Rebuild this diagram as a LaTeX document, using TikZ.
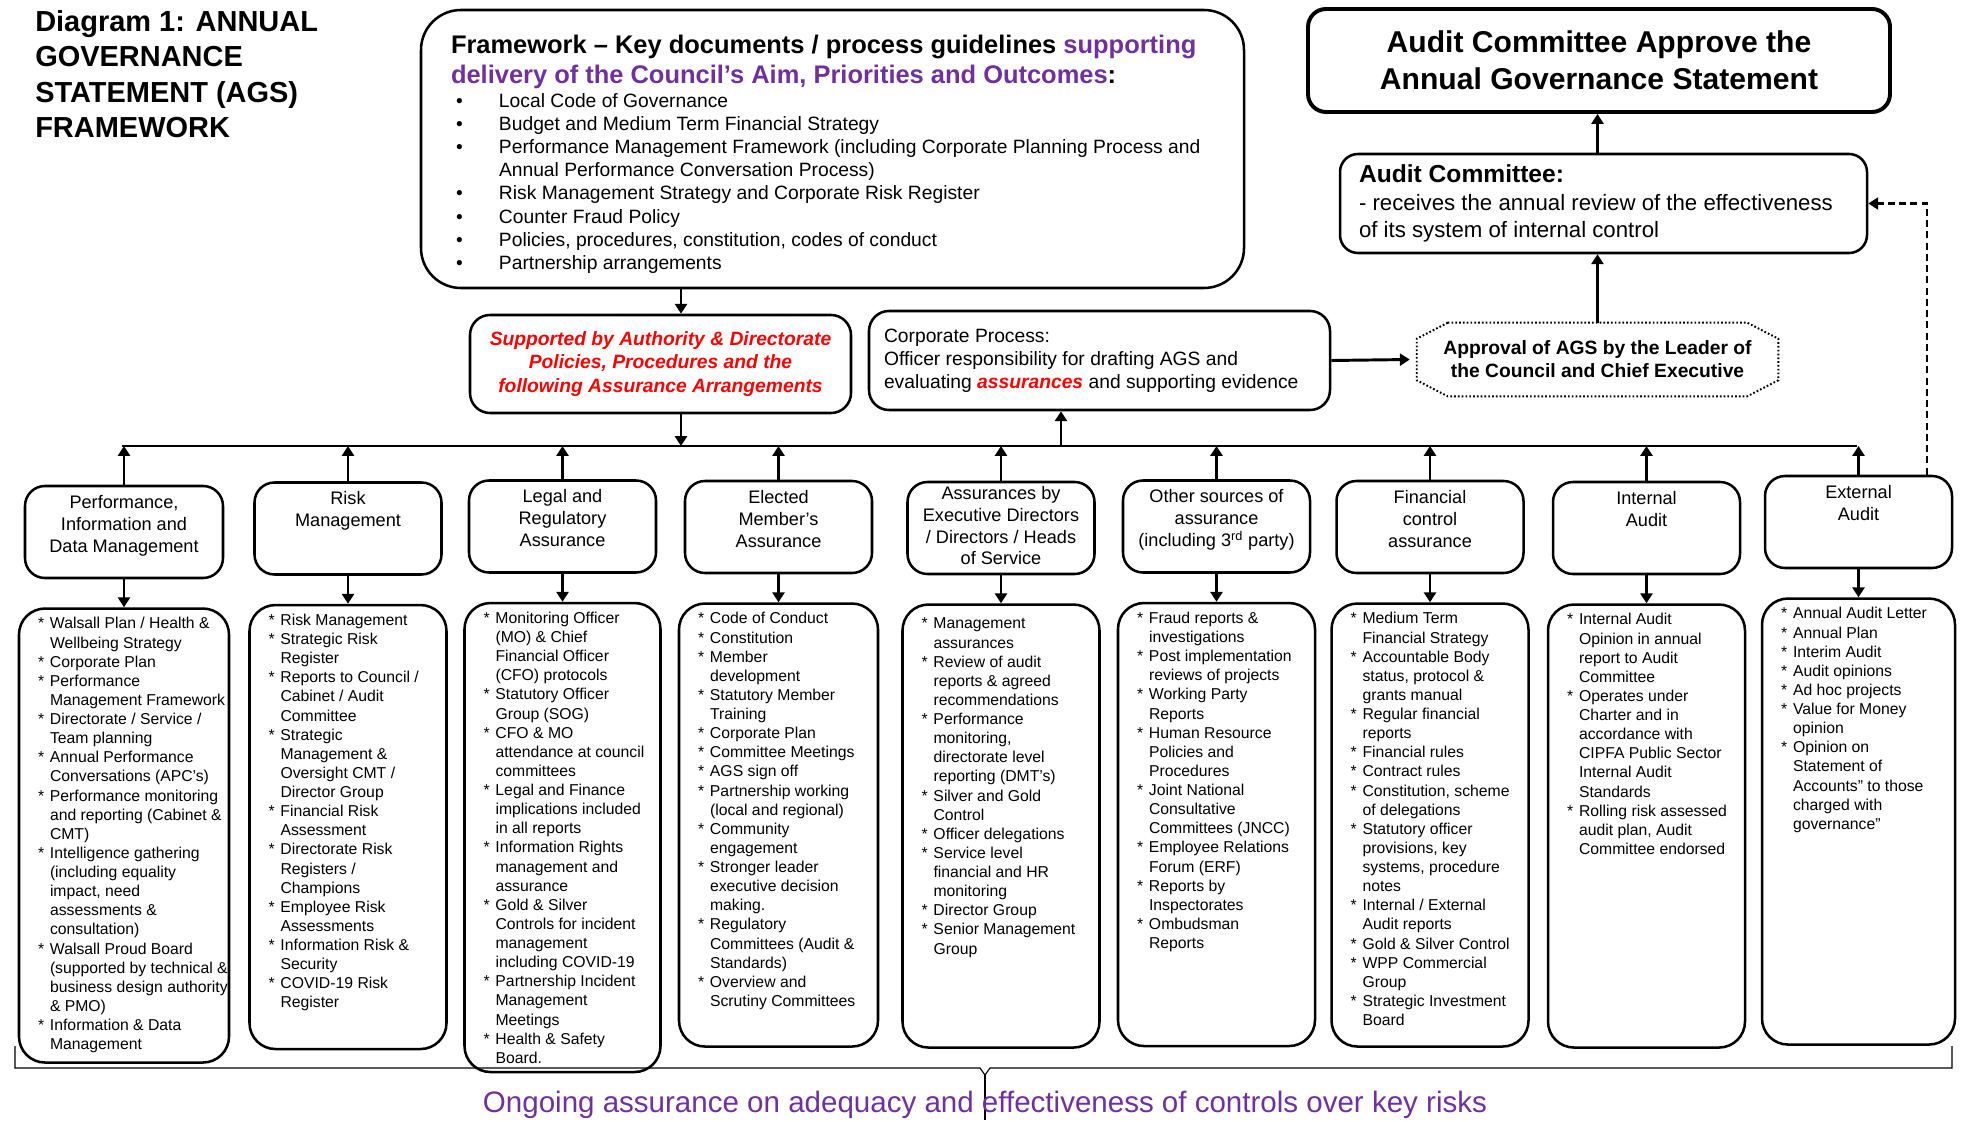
\documentclass[tikz,border=0pt]{standalone}
\usepackage{fontspec}
\setmainfont{Liberation Sans}
\usetikzlibrary{arrows.meta, positioning}

\newlength{\unitpx}\setlength{\unitpx}{0.025cm}
\definecolor{agspurple}{RGB}{112,48,160}
\definecolor{agsred}{RGB}{255,0,0}

% bullets for the lists
\newcommand{\bstar}{\makebox[12\unitpx][l]{*}}
\newcommand{\bcont}{\hspace*{12\unitpx}}
\newcommand{\fwitem}{\makebox[48\unitpx][l]{\hspace*{5\unitpx}\textbullet}}
\newcommand{\fwcont}{\hspace*{48\unitpx}}
% top aligned text in the boxes
\newcommand{\hdtext}[1]{\parbox[c][74\unitpx][t]{171\unitpx}{\centering #1}}
\newcommand{\lstext}[4][0]{\parbox[c][#3\unitpx][t]{#2\unitpx}{\vspace*{#1\unitpx}%
    \begin{tabular}[t]{@{}l@{}}#4\end{tabular}}}

\begin{document}
\begin{tikzpicture}[x=0.025cm, y=-0.025cm,
    box/.style={draw, line width=1.8pt, rounded corners=20\unitpx},
    hdr/.style={box, minimum width=187\unitpx, inner xsep=8\unitpx, inner ysep=9\unitpx,
        font=\fontsize{12.9}{15.6}\selectfont},
    lst/.style={box, rounded corners=26\unitpx, inner xsep=19\unitpx, inner ysep=7\unitpx,
        font=\fontsize{11.2}{13.6}\selectfont},
    arr/.style={-{Triangle[length=7pt,width=8.5pt]}, line width=2.1pt},
    dasharr/.style={-{Triangle[length=7pt,width=8.5pt]}, line width=1.5pt,
        dash pattern=on 5pt off 3pt}
]
\useasboundingbox (0,0) rectangle (1966,1122);

% ---------------- TOP ----------------
\node[anchor=north west, inner sep=0, align=left,
    font=\fontsize{20.6}{25.3}\selectfont\bfseries] (title) at (35,10)
{Diagram 1: ANNUAL\\GOVERNANCE\\STATEMENT (AGS)\\FRAMEWORK};

\node[box, rounded corners=40\unitpx, minimum width=823\unitpx,
    minimum height=278\unitpx, inner sep=0] (frame) at (832.5,149)
{\parbox{763\unitpx}{\vspace*{10\unitpx}%
{\fontsize{18.1}{21.3}\selectfont\bfseries Framework -- Key documents / process guidelines
\textcolor{agspurple}{supporting}\\
\textcolor{agspurple}{delivery of the Council’s Aim, Priorities and Outcomes}:\par}
\vspace{1pt}
{\fontsize{13.7}{16.4}\selectfont
\fwitem Local Code of Governance\\
\fwitem Budget and Medium Term Financial Strategy\\
\fwitem Performance Management Framework (including Corporate Planning Process and\\
\fwcont Annual Performance Conversation Process)\\
\fwitem Risk Management Strategy and Corporate Risk Register\\
\fwitem Counter Fraud Policy\\
\fwitem Policies, procedures, constitution, codes of conduct\\
\fwitem Partnership arrangements\par}}};

\node[box, line width=2.8pt, rounded corners=18\unitpx, minimum width=582\unitpx,
    minimum height=103\unitpx, align=center,
    font=\fontsize{21.4}{26.5}\selectfont\bfseries] (approve) at (1599,60.5)
{Audit Committee Approve the\\Annual Governance Statement};

\node[box, rounded corners=18\unitpx, minimum width=527\unitpx, minimum height=99\unitpx,
    inner sep=0, font=\fontsize{15.8}{19.8}\selectfont] (audit) at (1603.5,203.5)
{\parbox{489\unitpx}{{\fontsize{17.5}{19.8}\selectfont\bfseries Audit Committee:}\\
- receives the annual review of the effectiveness\\
of its system of internal control}};

% ---------------- MIDDLE ----------------
\node[box, minimum width=381\unitpx, minimum height=98\unitpx, align=center,
    text=agsred, font=\fontsize{13.7}{16.4}\selectfont\bfseries\itshape] (support)
    at (660.5,364)
{Supported by Authority \& Directorate\\Policies, Procedures and the\\following Assurance Arrangements};

\node[box, minimum width=461\unitpx, minimum height=99\unitpx, inner sep=0,
    font=\fontsize{13.7}{16.2}\selectfont] (corp) at (1099.5,360.5)
{\parbox{431\unitpx}{Corporate Process:\\
Officer responsibility for drafting AGS and\\
evaluating \textcolor{agsred}{\bfseries\itshape assurances} and supporting evidence}};

\node[minimum width=361\unitpx, minimum height=73\unitpx, align=center,
    font=\fontsize{13.7}{16.4}\selectfont\bfseries] (leader) at (1597.5,359.5)
{Approval of AGS by the Leader of\\the Council and Chief Executive};
\draw[line width=1.4pt, dash pattern=on 1.2pt off 1.5pt]
    ([xshift=31\unitpx]leader.north west) -- ([xshift=-31\unitpx]leader.north east)
    -- ([yshift=-16\unitpx]leader.north east) -- ([yshift=16\unitpx]leader.south east)
    -- ([xshift=-31\unitpx]leader.south east) -- ([xshift=31\unitpx]leader.south west)
    -- ([yshift=16\unitpx]leader.south west) -- ([yshift=-16\unitpx]leader.north west)
    -- cycle;

\coordinate (busL) at (122,446);
\coordinate (busR) at (1857,446);
\coordinate (spine) at (681,446);
\coordinate (corpin) at (1061,446);
\draw[line width=1.5pt] (busL) -- (busR);

\draw[arr] (spine |- frame.south) -- (spine |- support.north);
\draw[arr] (spine |- support.south) -- (spine);
\draw[arr] (corpin) -- (corpin |- corp.south);
\draw[arr] (corp.east) -- ([xshift=-7\unitpx]leader.west);
\draw[arr] (leader.north) -- (leader.north |- audit.south);
\draw[arr] (leader.north |- audit.north) -- (leader.north |- approve.south);

% ---------------- ASSURANCE HEADERS ----------------
\node[hdr, minimum width=198\unitpx] (hperf) at (124,532)
    {\hdtext{Performance,\\Information and\\Data Management}};
\node[hdr] (hrisk) at (348,528.5) {\hdtext{Risk\\Management}};
\node[hdr] (hlegal) at (562.5,526.5) {\hdtext{Legal and\\Regulatory\\Assurance}};
\node[hdr] (hmember) at (778.5,527) {\hdtext{Elected\\Member’s\\Assurance}};
\node[hdr] (hexec) at (1001,528)
    {\parbox[c][74\unitpx][t]{171\unitpx}{\centering\vspace*{-5\unitpx}Assurances by\\Executive Directors\\/ Directors / Heads\\of Service}};
\node[hdr] (hother) at (1216.5,526.5)
    {\hdtext{Other sources of\\assurance\\(including 3\textsuperscript{rd} party)}};
\node[hdr] (hfin) at (1430,527) {\hdtext{Financial\\control\\assurance}};
\node[hdr] (hia) at (1646.5,528) {\hdtext{Internal\\Audit}};
\node[hdr] (hea) at (1858.5,522) {\hdtext{External\\Audit}};

\foreach \h in {hperf,hrisk,hlegal,hmember,hexec,hother,hfin,hia,hea}
    \draw[arr] (\h.north) -- (\h.north |- busL);

\draw[dasharr] ([xshift=-26\unitpx]hea.north east) |- (audit.east);

% ---------------- ASSURANCE LISTS ----------------
\node[lst, below=0.7cm of hperf] (lperf) {\lstext{172}{440}{%
\bstar Walsall Plan / Health \&\\
\bcont Wellbeing Strategy\\
\bstar Corporate Plan\\
\bstar Performance\\
\bcont Management Framework\\
\bstar Directorate / Service /\\
\bcont Team planning\\
\bstar Annual Performance\\
\bcont Conversations (APC’s)\\
\bstar Performance monitoring\\
\bcont and reporting (Cabinet \&\\
\bcont CMT)\\
\bstar Intelligence gathering\\
\bcont (including equality\\
\bcont impact, need\\
\bcont assessments \&\\
\bcont consultation)\\
\bstar Walsall Proud Board\\
\bcont (supported by technical \&\\
\bcont business design authority\\
\bcont \& PMO)\\
\bstar Information \& Data\\
\bcont Management}};

\node[lst, below=0.7cm of hrisk] (lrisk) {\lstext{159}{430}{%
\bstar Risk Management\\
\bstar Strategic Risk\\
\bcont Register\\
\bstar Reports to Council /\\
\bcont Cabinet / Audit\\
\bcont Committee\\
\bstar Strategic\\
\bcont Management \&\\
\bcont Oversight CMT /\\
\bcont Director Group\\
\bstar Financial Risk\\
\bcont Assessment\\
\bstar Directorate Risk\\
\bcont Registers /\\
\bcont Champions\\
\bstar Employee Risk\\
\bcont Assessments\\
\bstar Information Risk \&\\
\bcont Security\\
\bstar COVID-19 Risk\\
\bcont Register}};

\node[lst, below=0.7cm of hlegal] (llegal) {\lstext{158}{455}{%
\bstar Monitoring Officer\\
\bcont (MO) \& Chief\\
\bcont Financial Officer\\
\bcont (CFO) protocols\\
\bstar Statutory Officer\\
\bcont Group (SOG)\\
\bstar CFO \& MO\\
\bcont attendance at council\\
\bcont committees\\
\bstar Legal and Finance\\
\bcont implications included\\
\bcont in all reports\\
\bstar Information Rights\\
\bcont management and\\
\bcont assurance\\
\bstar Gold \& Silver\\
\bcont Controls for incident\\
\bcont management\\
\bcont including COVID-19\\
\bstar Partnership Incident\\
\bcont Management\\
\bcont Meetings\\
\bstar Health \& Safety\\
\bcont Board.}};

\node[lst, below=0.7cm of hmember] (lmember) {\lstext{161}{429}{%
\bstar Code of Conduct\\
\bstar Constitution\\
\bstar Member\\
\bcont development\\
\bstar Statutory Member\\
\bcont Training\\
\bstar Corporate Plan\\
\bstar Committee Meetings\\
\bstar AGS sign off\\
\bstar Partnership working\\
\bcont (local and regional)\\
\bstar Community\\
\bcont engagement\\
\bstar Stronger leader\\
\bcont executive decision\\
\bcont making.\\
\bstar Regulatory\\
\bcont Committees (Audit \&\\
\bcont Standards)\\
\bstar Overview and\\
\bcont Scrutiny Committees}};

\node[lst, below=0.7cm of hexec] (lexec) {\lstext[4]{159}{429}{%
\bstar Management\\
\bcont assurances\\
\bstar Review of audit\\
\bcont reports \& agreed\\
\bcont recommendations\\
\bstar Performance\\
\bcont monitoring,\\
\bcont directorate level\\
\bcont reporting (DMT’s)\\
\bstar Silver and Gold\\
\bcont Control\\
\bstar Officer delegations\\
\bstar Service level\\
\bcont financial and HR\\
\bcont monitoring\\
\bstar Director Group\\
\bstar Senior Management\\
\bcont Group}};

\node[lst, below=0.7cm of hother] (lother) {\lstext{159}{429}{%
\bstar Fraud reports \&\\
\bcont investigations\\
\bstar Post implementation\\
\bcont reviews of projects\\
\bstar Working Party\\
\bcont Reports\\
\bstar Human Resource\\
\bcont Policies and\\
\bcont Procedures\\
\bstar Joint National\\
\bcont Consultative\\
\bcont Committees (JNCC)\\
\bstar Employee Relations\\
\bcont Forum (ERF)\\
\bstar Reports by\\
\bcont Inspectorates\\
\bstar Ombudsman\\
\bcont Reports}};

\node[lst, below=0.7cm of hfin] (lfin) {\lstext{159}{429}{%
\bstar Medium Term\\
\bcont Financial Strategy\\
\bstar Accountable Body\\
\bcont status, protocol \&\\
\bcont grants manual\\
\bstar Regular financial\\
\bcont reports\\
\bstar Financial rules\\
\bstar Contract rules\\
\bstar Constitution, scheme\\
\bcont of delegations\\
\bstar Statutory officer\\
\bcont provisions, key\\
\bcont systems, procedure\\
\bcont notes\\
\bstar Internal / External\\
\bcont Audit reports\\
\bstar Gold \& Silver Control\\
\bstar WPP Commercial\\
\bcont Group\\
\bstar Strategic Investment\\
\bcont Board}};

\node[lst, below=0.7cm of hia] (lia) {\lstext{159}{429}{%
\bstar Internal Audit\\
\bcont Opinion in annual\\
\bcont report to Audit\\
\bcont Committee\\
\bstar Operates under\\
\bcont Charter and in\\
\bcont accordance with\\
\bcont CIPFA Public Sector\\
\bcont Internal Audit\\
\bcont Standards\\
\bstar Rolling risk assessed\\
\bcont audit plan, Audit\\
\bcont Committee endorsed}};

\node[lst, below=0.7cm of hea] (lea) {\lstext{155}{432}{%
\bstar Annual Audit Letter\\
\bstar Annual Plan\\
\bstar Interim Audit\\
\bstar Audit opinions\\
\bstar Ad hoc projects\\
\bstar Value for Money\\
\bcont opinion\\
\bstar Opinion on\\
\bcont Statement of\\
\bcont Accounts'' to those\\
\bcont charged with\\
\bcont governance''}};

\foreach \h/\l in {hperf/lperf,hrisk/lrisk,hlegal/llegal,hmember/lmember,hexec/lexec,
    hother/lother,hfin/lfin,hia/lia,hea/lea}
    \draw[arr] (\h.south) -- (\h.south |- \l.north);

% ---------------- BOTTOM ----------------
\draw[line width=0.8pt] (15,1046) -- (15,1068) -- (980,1068) -- (985,1075)
    -- (990,1068) -- (1952,1068) -- (1952,1046);
\draw[line width=0.8pt] (985,1075) -- (985,1120);

\node[text=agspurple, font=\fontsize{21}{24}\selectfont] (ongoing) at (985,1105)
{Ongoing assurance on adequacy and effectiveness of controls over key risks};

\end{tikzpicture}
\end{document}
